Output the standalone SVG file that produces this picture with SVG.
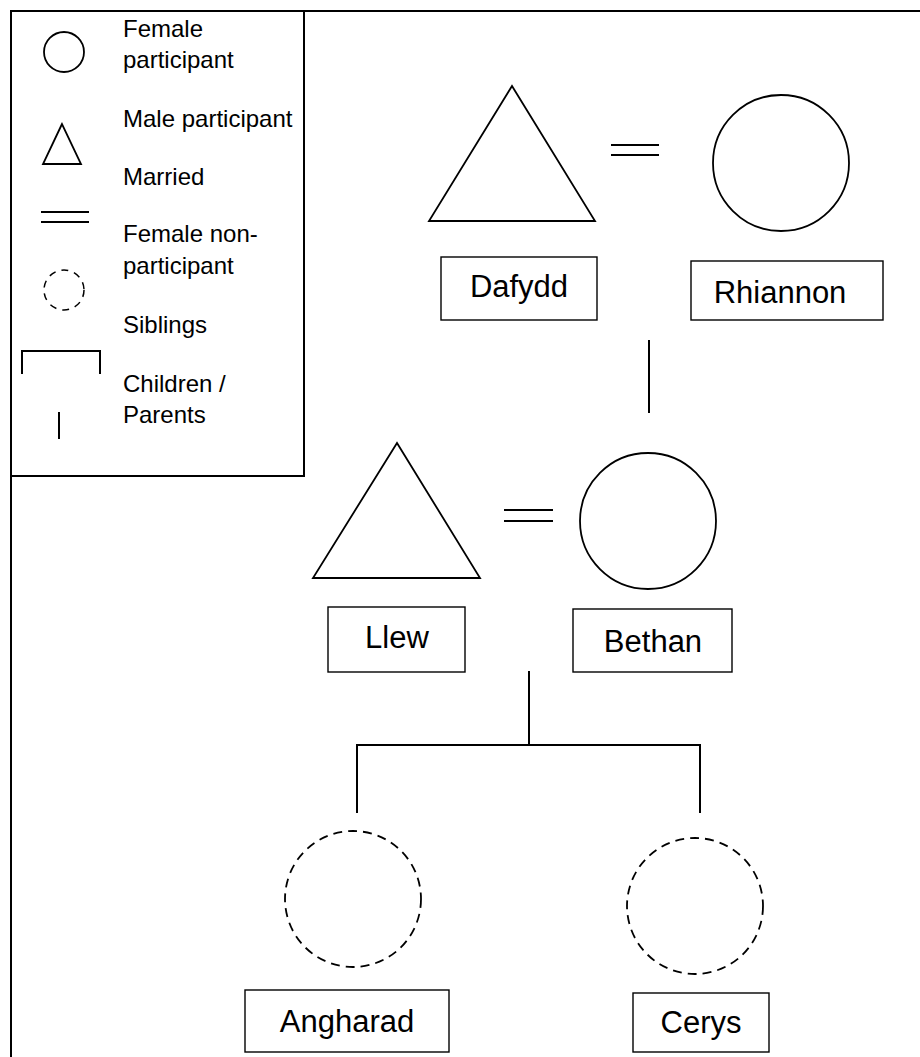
<svg xmlns="http://www.w3.org/2000/svg" width="920" height="1057" viewBox="0 0 920 1057">
  <style>
    .frame { fill: none; stroke: #000; stroke-width: 2; }
    .shape { fill: none; stroke: #000; stroke-width: 1.8; }
    .dashed { fill: none; stroke: #000; stroke-width: 1.8; stroke-dasharray: 9 6; }
    .dashed-sm { fill: none; stroke: #000; stroke-width: 1.5; stroke-dasharray: 7 6; }
    .box { fill: #fff; stroke: #000; stroke-width: 1.4; }
    .line { fill: none; stroke: #000; stroke-width: 2; }
    .legend-text { font-family: "Liberation Sans", Arial, sans-serif; font-size: 24px; fill: #000; }
    .label { font-family: "Liberation Sans", Arial, sans-serif; font-size: 31px; fill: #000; text-anchor: middle; }
  </style>

  <rect width="920" height="1057" fill="#fff"/>

  <!-- outer frame -->
  <path class="frame" d="M11,1057 V11 H920"/>

  <!-- key -->
  <g id="legend">
    <rect class="frame" x="11" y="11" width="293" height="465"/>
    <circle class="shape" cx="64" cy="52" r="20"/>
    <text class="legend-text" x="123" y="37">Female</text>
    <text class="legend-text" x="123" y="68">participant</text>
    <polygon class="shape" points="62,124 43,164 81,164"/>
    <text class="legend-text" x="123" y="127">Male participant</text>
    <text class="legend-text" x="123" y="185">Married</text>
    <line class="line" x1="41" y1="212" x2="89" y2="212"/>
    <line class="line" x1="41" y1="222" x2="89" y2="222"/>
    <text class="legend-text" x="123" y="242">Female non-</text>
    <text class="legend-text" x="123" y="274">participant</text>
    <circle class="dashed-sm" cx="64" cy="290" r="20"/>
    <text class="legend-text" x="123" y="333">Siblings</text>
    <path class="line" d="M22,374 V351 H100 V374"/>
    <text class="legend-text" x="123" y="392">Children /</text>
    <text class="legend-text" x="123" y="423">Parents</text>
    <line class="line" x1="59" y1="412" x2="59" y2="439"/>
  </g>

  <!-- relationship lines -->
  <g id="connectors">
    <line class="line" x1="611" y1="145" x2="659" y2="145"/>
    <line class="line" x1="611" y1="155" x2="659" y2="155"/>
    <line class="line" x1="649" y1="340" x2="649" y2="413"/>
    <line class="line" x1="504" y1="510" x2="553" y2="510"/>
    <line class="line" x1="504" y1="521" x2="553" y2="521"/>
    <line class="line" x1="529" y1="671" x2="529" y2="745"/>
    <path class="line" d="M357,813 V745 H700 V813"/>
  </g>

  <g id="dafydd">
    <polygon class="shape" points="512,86 429,221 595,221"/>
    <rect class="box" x="441" y="257" width="156" height="63"/>
    <text class="label" x="519" y="297">Dafydd</text>
  </g>

  <g id="rhiannon">
    <circle class="shape" cx="781" cy="163" r="68"/>
    <rect class="box" x="691" y="261" width="192" height="59"/>
    <text class="label" x="780" y="303">Rhiannon</text>
  </g>

  <g id="llew">
    <polygon class="shape" points="397,443 313,578 480,578"/>
    <rect class="box" x="328" y="607" width="137" height="65"/>
    <text class="label" x="397" y="648">Llew</text>
  </g>

  <g id="bethan">
    <circle class="shape" cx="648" cy="521" r="68"/>
    <rect class="box" x="573" y="609" width="159" height="63"/>
    <text class="label" x="653" y="652">Bethan</text>
  </g>

  <g id="angharad">
    <circle class="dashed" cx="353" cy="899" r="68"/>
    <rect class="box" x="245" y="990" width="204" height="62"/>
    <text class="label" x="347" y="1032">Angharad</text>
  </g>

  <g id="cerys">
    <circle class="dashed" cx="695" cy="906" r="68"/>
    <rect class="box" x="633" y="993" width="136" height="59"/>
    <text class="label" x="701" y="1033">Cerys</text>
  </g>
</svg>
